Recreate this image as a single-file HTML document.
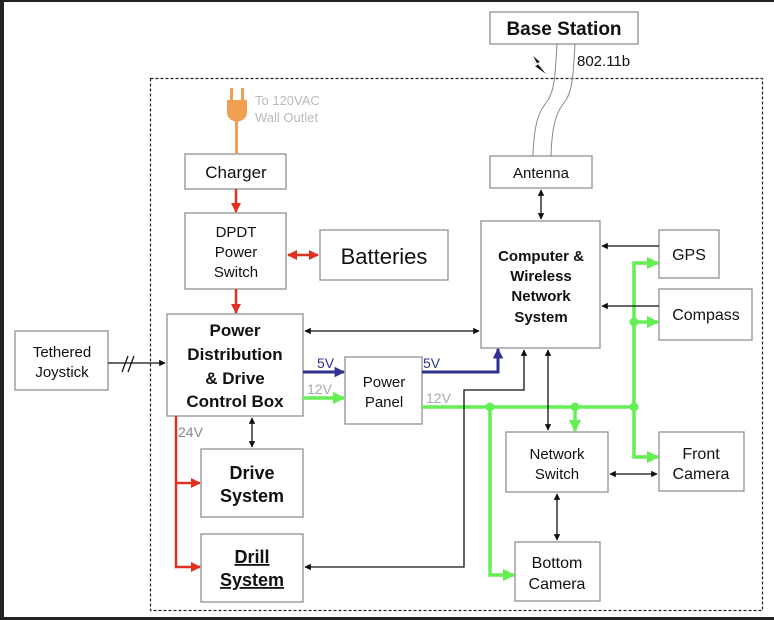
<!DOCTYPE html>
<html><head><style>
body{margin:0;background:#fff}
svg{display:block}
text{font-family:"Liberation Sans",sans-serif;fill:#111}
</style></head><body>
<svg width="774" height="620" viewBox="0 0 774 620">
<defs>
<marker id="ak" viewBox="0 0 10 10" refX="9" refY="5" markerWidth="5" markerHeight="5" orient="auto-start-reverse"><path d="M0,0L10,5L0,10z" fill="#111"/></marker>
<marker id="ar" viewBox="0 0 10 10" refX="9" refY="5" markerWidth="4" markerHeight="4" orient="auto-start-reverse"><path d="M0,0L10,5L0,10z" fill="#e03020"/></marker>
<marker id="ag" viewBox="0 0 10 10" refX="9" refY="5" markerWidth="3.5" markerHeight="3.5" orient="auto-start-reverse"><path d="M0,0L10,5L0,10z" fill="#66ee55"/></marker>
<marker id="ab" viewBox="0 0 10 10" refX="9" refY="5" markerWidth="3.5" markerHeight="3.5" orient="auto-start-reverse"><path d="M0,0L10,5L0,10z" fill="#303090"/></marker>
</defs>
<rect x="0" y="0" width="774" height="620" fill="#fff"/>
<rect x="0" y="0" width="4" height="620" fill="#222"/>
<rect x="0" y="0" width="774" height="2" fill="#222"/>
<rect x="0" y="617" width="774" height="3" fill="#222"/>
<rect x="150.5" y="78.5" width="612" height="532" fill="none" stroke="#222" stroke-width="1.2" stroke-dasharray="3,2"/>
<g fill="#fff" stroke="#888" stroke-width="1.2">
<rect x="490" y="12" width="148" height="32"/>
<rect x="185" y="154" width="101" height="35"/>
<rect x="185" y="213" width="101" height="76"/>
<rect x="320" y="230" width="128" height="50"/>
<rect x="490" y="156" width="102" height="32"/>
<rect x="481" y="221" width="119" height="127"/>
<rect x="659" y="230" width="60" height="48"/>
<rect x="659" y="289" width="93" height="51"/>
<rect x="167" y="314" width="136" height="102"/>
<rect x="15" y="331" width="93" height="59"/>
<rect x="345" y="357" width="77" height="67"/>
<rect x="201" y="449" width="102" height="68"/>
<rect x="201" y="534" width="102" height="68"/>
<rect x="506" y="432" width="102" height="60"/>
<rect x="659" y="432" width="85" height="59"/>
<rect x="515" y="542" width="85" height="59"/>
</g>
<g fill="none" stroke="#888" stroke-width="1">
<path d="M557,44 C555,80 554,90 548,100 C540,110 534,120 533,156"/>
<path d="M575,44 C573,80 572,90 566,100 C558,110 552,120 551,156"/>
</g>
<path d="M533,56 L540,62 L537,63 L546,74 L535,66 L538,65 Z" fill="#111"/>
<text x="577" y="66" font-size="15">802.11b</text>
<rect x="235" y="118" width="3" height="36" fill="#f0a050"/>
<path d="M227,100 h20 v12 q0,8 -10,10 q-10,-2 -10,-10z" fill="#f0a050"/>
<rect x="230" y="88" width="3" height="13" fill="#f0a050"/><rect x="241" y="88" width="3" height="13" fill="#f0a050"/>
<text x="255" y="105" font-size="13" style="fill:#bbb">To 120VAC</text>
<text x="255" y="122" font-size="13" style="fill:#bbb">Wall Outlet</text>
<g stroke="#e03020" stroke-width="2.5" fill="none">
<line x1="236" y1="189" x2="236" y2="212" marker-end="url(#ar)"/>
<line x1="236" y1="289" x2="236" y2="313" marker-end="url(#ar)"/>
<line x1="288" y1="255" x2="318" y2="255" marker-start="url(#ar)" marker-end="url(#ar)"/>
<path d="M176,416 V567 H200" marker-end="url(#ar)"/>
<line x1="176" y1="483" x2="200" y2="483" marker-end="url(#ar)"/>
</g>
<g stroke="#66ee55" stroke-width="3.5" fill="none">
<line x1="303" y1="398" x2="344" y2="398" marker-end="url(#ag)"/>
<line x1="422" y1="407" x2="634" y2="407"/>
<path d="M634,407 V263 H658" marker-end="url(#ag)"/>
<line x1="634" y1="322" x2="658" y2="322" marker-end="url(#ag)"/>
<path d="M634,407 V457 H658" marker-end="url(#ag)"/>
<path d="M490,407 V575 H514" marker-end="url(#ag)"/>
<line x1="575" y1="407" x2="575" y2="431" marker-end="url(#ag)"/>
</g>
<g fill="#66ee55"><circle cx="634" cy="322" r="4.5"/><circle cx="634" cy="407" r="4.5"/><circle cx="490" cy="407" r="4.5"/><circle cx="575" cy="407" r="4.5"/></g>
<g stroke="#303090" stroke-width="3" fill="none">
<line x1="303" y1="372" x2="344" y2="372" marker-end="url(#ab)"/>
<path d="M422,372 H498 V349" marker-end="url(#ab)"/>
</g>
<g stroke="#111" stroke-width="1.3" fill="none">
<line x1="541" y1="190" x2="541" y2="219" marker-start="url(#ak)" marker-end="url(#ak)"/>
<line x1="659" y1="246" x2="602" y2="246" marker-end="url(#ak)"/>
<line x1="659" y1="306" x2="602" y2="306" marker-end="url(#ak)"/>
<line x1="305" y1="331" x2="479" y2="331" marker-start="url(#ak)" marker-end="url(#ak)"/>
<line x1="108" y1="363" x2="165" y2="363" marker-end="url(#ak)"/>
<path d="M305,567 H464 V390 H524 V350" marker-start="url(#ak)" marker-end="url(#ak)"/>
<line x1="548" y1="350" x2="548" y2="430" marker-start="url(#ak)" marker-end="url(#ak)"/>
<line x1="252" y1="418" x2="252" y2="447" marker-start="url(#ak)" marker-end="url(#ak)"/>
<line x1="610" y1="474" x2="657" y2="474" marker-start="url(#ak)" marker-end="url(#ak)"/>
<line x1="557" y1="494" x2="557" y2="540" marker-start="url(#ak)" marker-end="url(#ak)"/>
<line x1="122" y1="372" x2="128" y2="356"/><line x1="128" y1="372" x2="134" y2="356"/>
</g>
<text x="317" y="368" font-size="14" style="fill:#303090">5V</text>
<text x="423" y="368" font-size="14" style="fill:#303090">5V</text>
<text x="307" y="394" font-size="14" style="fill:#aaa">12V</text>
<text x="426" y="403" font-size="14" style="fill:#aaa">12V</text>
<text x="178" y="437" font-size="14" style="fill:#888">24V</text>
<g text-anchor="middle">
<text x="564" y="35" font-size="19" font-weight="bold">Base Station</text>
<text x="236" y="178" font-size="17">Charger</text>
<text x="236" y="237" font-size="15">DPDT</text>
<text x="236" y="257" font-size="15">Power</text>
<text x="236" y="277" font-size="15">Switch</text>
<text x="384" y="264" font-size="22">Batteries</text>
<text x="541" y="178" font-size="15">Antenna</text>
<g font-size="15" font-weight="bold"><text x="541" y="261">Computer &amp;</text><text x="541" y="281">Wireless</text><text x="541" y="301">Network</text><text x="541" y="322">System</text></g>
<text x="689" y="260" font-size="16">GPS</text>
<text x="706" y="320" font-size="16">Compass</text>
<g font-size="17" font-weight="bold"><text x="235" y="336">Power</text><text x="235" y="360">Distribution</text><text x="235" y="384">&amp; Drive</text><text x="235" y="407">Control Box</text></g>
<text x="62" y="357" font-size="15">Tethered</text><text x="62" y="377" font-size="15">Joystick</text>
<text x="384" y="387" font-size="15">Power</text><text x="384" y="407" font-size="15">Panel</text>
<g font-size="18" font-weight="bold"><text x="252" y="479">Drive</text><text x="252" y="502">System</text>
<text x="252" y="563" text-decoration="underline">Drill</text><text x="252" y="586" text-decoration="underline">System</text></g>
<text x="557" y="459" font-size="15">Network</text><text x="557" y="479" font-size="15">Switch</text>
<text x="701" y="459" font-size="16">Front</text><text x="701" y="479" font-size="16">Camera</text>
<text x="557" y="568" font-size="16">Bottom</text><text x="557" y="589" font-size="16">Camera</text>
</g>
</svg>
</body></html>
